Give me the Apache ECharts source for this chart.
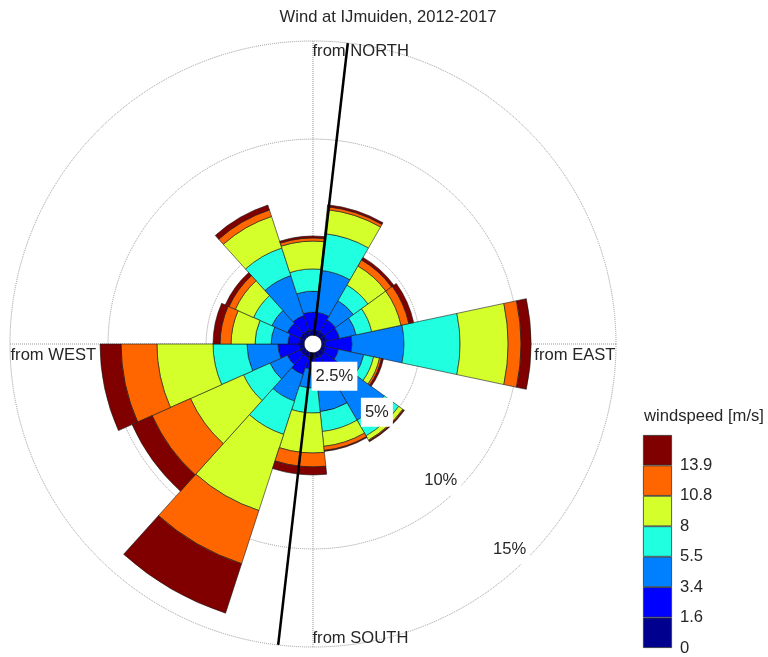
<!DOCTYPE html>
<html>
<head>
<meta charset="utf-8">
<title>Wind at IJmuiden</title>
<script src="https://cdn.jsdelivr.net/npm/echarts@6/dist/echarts.min.js"></script>
<style>
  html, body { margin: 0; padding: 0; background: #fff; }
  #windRose { width: 768px; height: 657px; }
</style>
</head>
<body>
<div id="windRose"></div>
<script>
// direction sectors, centre bearing in degrees ("from"), 24 deg wide
const directions = ['354', '18', '42', '66', '90', '114', '138', '162', '186', '210', '234', '258', '282', '306', '330'];

// speed classes [m/s] and colours
const speedEdges = ['0', '1.6', '3.4', '5.5', '8', '10.8', '13.9'];
const speedColors = ['#00008f', '#0000ff', '#0080ff', '#20ffdf', '#d4ff2b', '#ff6600', '#800000'];

// frequency [%] per sector for each speed class
const speed0 = [0.27, 0.27, 0.27, 0.27, 0.16, 0.22, 0.27, 0.27, 0.27, 0.27, 0.27, 0.27, 0.27, 0.27, 0.27];
const speed1 = [0.91, 0.91, 0.71, 0.66, 1.38, 0.66, 1.07, 0.91, 0.56, 0.91, 0.71, 1.07, 0.56, 0.71, 0.81];
const speed2 = [1.07, 2.15, 1.12, 0.87, 2.65, 1.32, 2.70, 1.84, 0.97, 1.43, 0.97, 1.58, 0.86, 0.87, 2.14];
const speed3 = [1.13, 1.88, 0.92, 0.81, 2.86, 0.51, 0.92, 1.02, 1.27, 1.79, 1.48, 1.73, 0.82, 1.02, 1.48];
const speed4 = [1.42, 1.23, 1.12, 1.53, 2.45, 0.31, 0.25, 0.76, 2.04, 4.08, 2.96, 2.86, 1.22, 1.02, 1.69];
const speed5 = [0.16, 0.15, 0.36, 0.41, 0.66, 0.10, 0.05, 0.21, 0.71, 2.85, 2.14, 1.83, 0.56, 0.35, 0.35];
const speed6 = [0.10, 0.10, 0.15, 0.25, 0.51, 0.10, 0.05, 0.05, 0.41, 2.65, 1.12, 1.07, 0.36, 0.21, 0.26];
const speedSeries = [speed0, speed1, speed2, speed3, speed4, speed5, speed6];

// rings [%], coast line bearing and compass texts
const ringValues = [2.5, 5, 10, 15];
const ringLabelAngle = 137;
const coastAngle = 6.6;
const compassAngles = [0, 90, 180, 270];
const compassLabels = ['from NORTH', 'from EAST', 'from SOUTH', 'from WEST'];

const textColor = '#262626';
const fontFamily = 'Arial, "Liberation Sans", Helvetica, sans-serif';
const fontSize = 16.6;
const rMax = 15;

const chart = echarts.init(document.getElementById('windRose'));

const roseSeries = speedSeries.map((vals, i) => ({
    name: speedEdges[i],
    type: 'bar',
    coordinateSystem: 'polar',
    polarIndex: 0,
    stack: 'rose',
    barCategoryGap: '0%',
    data: vals,
    silent: true,
    itemStyle: {
        color: speedColors[i],
        borderColor: '#1a1a1a',
        borderWidth: 0.6
    }
}));

const colorbarSeries = speedColors.map((c, i) => ({
    name: 'cb' + i,
    type: 'bar',
    xAxisIndex: 0,
    yAxisIndex: 0,
    stack: 'colorbar',
    barWidth: '100%',
    data: [1],
    silent: true,
    itemStyle: { color: c, borderColor: '#333', borderWidth: 0.8 }
}));

// label placement of compass texts
const compassPos = [
    { position: [0, 11], align: 'left' },
    { position: [0, 12], align: 'right' },
    { position: [0, -8], align: 'left' },
    { position: [1, 12], align: 'left' }
];
const ringOffsets = [[-18, -10], [-9, -10], [-12, -13], [-10, -16]];

const options = {
    animation: false,
    backgroundColor: '#fff',
    title: [
        {
            text: 'Wind at IJmuiden, 2012-2017',
            left: 388,
            top: 9,
            padding: 0,
            textAlign: 'center',
            textStyle: { color: textColor, fontSize: fontSize, fontWeight: 'normal', fontFamily: fontFamily }
        },
        {
            text: 'windspeed [m/s]',
            left: 644,
            top: 408,
            padding: 0,
            textStyle: { color: textColor, fontSize: fontSize, fontWeight: 'normal', fontFamily: fontFamily }
        }
    ],
    polar: [
        { center: [313, 344], radius: [8.8, 303] },
        { center: [313, 344], radius: [8.8, 303] }
    ],
    angleAxis: [
        {
            polarIndex: 0,
            type: 'category',
            data: directions,
            startAngle: 108,
            clockwise: true,
            axisLine: { show: false },
            axisTick: { show: false },
            axisLabel: { show: false },
            splitLine: { show: false }
        },
        {
            polarIndex: 1,
            type: 'value',
            min: 0,
            max: 360,
            interval: 90,
            startAngle: 90,
            clockwise: true,
            axisLine: { show: false },
            axisTick: { show: false },
            axisLabel: { show: false },
            splitLine: { show: true, lineStyle: { color: '#999', type: 'dotted', width: 1 } }
        }
    ],
    radiusAxis: [
        {
            polarIndex: 0,
            min: 0,
            max: rMax,
            axisLine: { show: false },
            axisTick: { show: false },
            axisLabel: { show: false },
            splitLine: { show: false }
        },
        {
            polarIndex: 1,
            min: 0,
            max: rMax,
            interval: 2.5,
            axisLine: { show: false },
            axisTick: { show: false },
            axisLabel: { show: false },
            splitLine: {
                show: true,
                lineStyle: {
                    // 0, 2.5, 5, 7.5, 10, 12.5, 15
                    color: ['rgba(0,0,0,0)', '#999', '#999', 'rgba(0,0,0,0)', '#999', 'rgba(0,0,0,0)', '#999'],
                    type: 'dotted',
                    width: 1
                }
            }
        }
    ],
    grid: { left: 643, top: 435, width: 29, height: 213 },
    xAxis: { type: 'category', data: [''], show: false },
    yAxis: {
        type: 'value',
        position: 'right',
        min: 0,
        max: speedEdges.length,
        interval: 1,
        axisLine: { show: false },
        axisTick: { show: false },
        splitLine: { show: false },
        axisLabel: {
            margin: 8,
            color: textColor,
            fontSize: fontSize,
            fontFamily: fontFamily,
            formatter: v => speedEdges[v] || ''
        }
    },
    series: [
        ...roseSeries,
        {
            type: 'line',
            coordinateSystem: 'polar',
            polarIndex: 1,
            data: [[rMax, coastAngle], [rMax, coastAngle + 180]],
            symbol: 'none',
            silent: true,
            z: 5,
            lineStyle: { color: '#000', width: 2.5 }
        },
        {
            type: 'scatter',
            coordinateSystem: 'polar',
            polarIndex: 1,
            symbolSize: 1,
            silent: true,
            z: 6,
            itemStyle: { color: 'rgba(0,0,0,0)', opacity: 1 },
            data: compassAngles.map((a, i) => ({
                value: [rMax, a],
                label: { position: compassPos[i].position, align: compassPos[i].align, verticalAlign: 'middle' }
            })),
            label: {
                show: true,
                formatter: p => compassLabels[p.dataIndex],
                color: textColor,
                fontSize: fontSize,
                fontFamily: fontFamily
            }
        },
        {
            type: 'scatter',
            coordinateSystem: 'polar',
            polarIndex: 1,
            symbolSize: 1,
            silent: true,
            z: 6,
            itemStyle: { color: 'rgba(0,0,0,0)', opacity: 1 },
            data: ringValues.map((v, i) => ({
                value: [v, ringLabelAngle],
                label: { offset: ringOffsets[i] }
            })),
            label: {
                show: true,
                position: 'inside',
                formatter: p => p.value[0] + '%',
                color: textColor,
                fontSize: fontSize,
                fontFamily: fontFamily,
                backgroundColor: '#fff',
                padding: [6, 4]
            }
        },
        ...colorbarSeries
    ]
};

chart.setOption(options);
</script>
</body>
</html>
